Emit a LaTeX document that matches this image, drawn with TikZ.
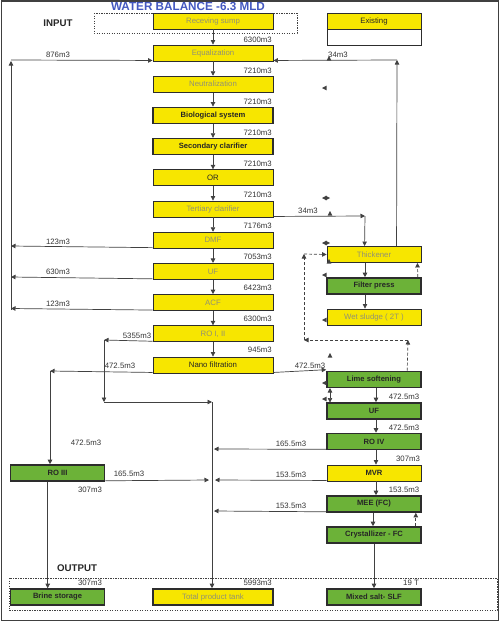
\documentclass[tikz,border=0pt]{standalone}
\usepackage{fontspec}
\setmainfont{Liberation Sans}
\usetikzlibrary{arrows.meta,calc}
\definecolor{ylw}{RGB}{247,230,0}
\definecolor{grn}{RGB}{108,178,56}
\definecolor{edgec}{RGB}{45,45,45}
\definecolor{ln}{RGB}{65,65,65}
\definecolor{gtxt}{RGB}{145,145,115}
\definecolor{ttl}{RGB}{68,88,192}
\begin{document}
\begin{tikzpicture}[x=1pt,y=-1pt,
  box/.style={draw=edgec,line width=0.9pt,minimum height=16pt,inner sep=0pt,font=\fontsize{7.8}{9}\selectfont},
  mainw/.style={minimum width=120pt},
  sidew/.style={minimum width=94pt},
  ybox/.style={box,fill=ylw},
  ybold/.style={box,fill=ylw,line width=1.6pt,font=\bfseries\fontsize{7.6}{9}\selectfont,text=black!85},
  gbox/.style={box,fill=grn,line width=1.6pt,font=\bfseries\fontsize{7.6}{9}\selectfont,text=black!85},
  grey/.style={text=gtxt},
  dark/.style={text=black!85},
  flow/.style={draw=ln,line width=0.7pt,-{Triangle[length=4.5pt,width=4.5pt]}},
  flowb/.style={draw=ln,line width=0.7pt,{Triangle[length=4.5pt,width=4.5pt]}-{Triangle[length=4.5pt,width=4.5pt]}},
  dflow/.style={flow,dash pattern=on 3pt off 2pt},
  qty/.style={font=\fontsize{7.8}{9}\selectfont,text=black!80,inner sep=0pt},
  hdr/.style={font=\bfseries\fontsize{9.7}{11}\selectfont,text=black!85},
  dotbox/.style={draw=black!75,line width=1pt,dash pattern=on 1.2pt off 1.3pt},
  tipmk/.pic={\fill[ln] (0,0) -- (-2.3,4.5) -- (2.3,4.5) -- cycle;}
]
\useasboundingbox (0,0) rectangle (500,622);
\draw[black!75,line width=1.6pt] (1.5,1.2) rectangle (498.5,620.5);

% titles
\node[font=\bfseries\fontsize{11.7}{13}\selectfont,text=ttl,anchor=base] (title) at (188,10.5) {WATER BALANCE -6.3 MLD};
\node[hdr] (inp) at (58,23) {INPUT};
\node[hdr] (outp) at (77,568) {OUTPUT};
\draw[dotbox] (94,13) rectangle (297,33);
\draw[dotbox] (9,578) rectangle (497,610);

% legend
\node[ybox,sidew,dark] (lg1) at (374,21) {Existing};
\node[box,sidew,fill=white] (lg2) at (374,37) {};

% main column
\node[ybox,mainw,grey] (rs) at (213,21) {Receving sump};
\node[ybox,mainw,grey] (eq) at (213,53) {Equalization};
\node[ybox,mainw,grey] (ne) at (213,84.2) {Neutralization};
\node[ybold,mainw] (bio) at (213,115.4) {Biological system};
\node[ybold,mainw] (sec) at (213,146.6) {Secondary clarifier};
\node[ybox,mainw,dark] (or) at (213,177.8) {OR};
\node[ybox,mainw,grey] (ter) at (213,209) {Tertiary clarifier};
\node[ybox,mainw,grey] (dmf) at (213,240.2) {DMF};
\node[ybox,mainw,grey] (uf) at (213,271.4) {UF};
\node[ybox,mainw,grey] (acf) at (213,302.6) {ACF};
\node[ybox,mainw,grey] (ro12) at (213,333.8) {RO I, II};
\node[ybox,mainw,dark] (nano) at (213,365) {Nano filtration};
\node[ybold,mainw,text=gtxt,font=\fontsize{7.8}{9}\selectfont] (tp) at (213,597) {Total product tank};

% right column
\node[ybox,sidew,grey] (th) at (374,254.5) {Thickener};
\node[gbox,sidew] (fp) at (374,286) {Filter press};
\node[ybox,sidew,grey] (ws) at (374,317) {Wet sludge ( 2T )};
\node[gbox,sidew] (ls) at (374,379.5) {Lime softening};
\node[gbox,sidew] (uf2) at (374,411) {UF};
\node[gbox,sidew] (ro4) at (374,441.5) {RO IV};
\node[ybox,sidew,dark,font=\bfseries\fontsize{7.6}{9}\selectfont] (mvr) at (374,473) {MVR};
\node[gbox,sidew] (mee) at (374,504) {MEE (FC)};
\node[gbox,sidew] (cr) at (374,535) {Crystallizer - FC};
\node[gbox,sidew] (ms) at (374,597) {Mixed salt- SLF};

% left column
\node[gbox,sidew] (ro3) at (57.5,473) {RO III};
\node[gbox,sidew] (br) at (57.5,597) {Brine storage};

% main chain
\foreach \a/\b in {rs/eq,eq/ne,ne/bio,bio/sec,sec/or,or/ter,ter/dmf,dmf/uf,uf/acf,acf/ro12,ro12/nano}
  \draw[flow] (\a) -- (\b);
\foreach \n/\y/\t in {1/40/6300m3,2/71/7210m3,3/102/7210m3,4/133/7210m3,5/164/7210m3,6/195/7210m3,7/226/7176m3,8/257/7053m3,9/288/6423m3,10/319/6300m3,11/350/945m3}
  \node[qty,anchor=east] (m\n) at (272,\y) {\t};

% left recycle loop
\coordinate (lt) at (11,60);
\coordinate (lb) at (11,310);
\coordinate (ldmf) at (11,246);
\coordinate (luf) at (11,277);
\coordinate (lacf) at (11,308.5);
\draw[flow] ($(dmf.south west)+(0,-1)$) -- (ldmf);
\draw[flow] ($(uf.south west)+(0,-1)$) -- (luf);
\draw[flow] ($(acf.south west)+(0,-1)$) -- (lacf);
\draw[flow] (lb) -- ($(lt)+(0,1)$);
\draw[flow] (lt) -- ($(eq.south west)+(0,-1)$);
\node[qty] (q876) at (58,55) {876m3};
\node[qty] (q123a) at (58,242) {123m3};
\node[qty] (q630) at (58,272) {630m3};
\node[qty] (q123b) at (58,304) {123m3};

% sludge recycle to equalization
\coordinate (rt) at (397,60);
\draw[flow] ($(th.north west)+(70,0)$) -- (rt);
\draw[flow] (rt) -- ($(eq.south east)+(0,-1)$);
\node[qty] (q34a) at (338,55) {34m3};

% tertiary to thickener
\coordinate (tt) at (365,216);
\draw[flow] ($(ter.south east)+(0,-1)$) -- (tt);
\draw[flow] (tt) -- ($(th.north west)+(38,0)$);
\node[qty] (q34b) at (308,211) {34m3};

% sludge line
\draw[flow] ($(th.south)+(-9,0)$) -- ($(fp.north)+(-9,0)$);
\draw[flow] ($(fp.south)+(-9,0)$) -- ($(ws.north)+(-9,0)$);
\draw[dflow] ($(fp.north east)+(-4,0)$) -- ($(th.south east)+(-4,0)$);

% dashed loop from lime softening to thickener
\coordinate (d1) at (408,340);
\coordinate (d2) at (304,340);
\coordinate (d3) at (304,254);
\draw[dflow] ($(ls.north west)+(81,0)$) -- (d1);
\draw[dflow] (d1) -- (d2);
\draw[dflow] (d2) -- (d3);
\draw[dflow] (d3) -- (th.west);

% RO I, II permeate
\coordinate (r1) at (104,340);
\coordinate (r2) at (104,402);
\coordinate (r3) at (212,402);
\draw[flow] ($(ro12.south west)+(0,-1)$) -- (r1);
\draw[flow] (r1) -- (r2);
\draw[flow] (r2) -- (r3);
\draw[flow] (r3) -- (tp.north -| r3);
\node[qty] (q5355) at (137,336) {5355m3};

% nano filtration
\coordinate (n1) at (50,371);
\draw[flow] ($(nano.south west)+(0,-1)$) -- (n1);
\draw[flow] (n1) -- (n1 |- ro3.north);
\draw[flow] ($(nano.south east)+(0,-1)$) -- ($(ls.north west)+(0,-1)$);
\node[qty] (q472a) at (120,366) {472.5m3};
\node[qty] (q472b) at (310,366) {472.5m3};
\node[qty] (q472c) at (86,443) {472.5m3};

% ZLD chain
\draw[flow] ($(ls.south)+(2,0)$) -- ($(uf2.north)+(2,0)$);
\draw[flow] ($(uf2.south)+(2,0)$) -- ($(ro4.north)+(2,0)$);
\draw[flow] ($(ro4.south)+(2,0)$) -- ($(mvr.north)+(2,0)$);
\draw[flow] ($(mvr.south)+(2,0)$) -- ($(mee.north)+(2,0)$);
\draw[flow] ($(mee.south)+(-1,0)$) -- ($(cr.north)+(-1,0)$);
\draw[dflow] ($(cr.north east)+(-6,0)$) -- ($(mee.south east)+(-6,0)$);
\draw[flow] (cr) -- (ms);
\node[qty] (q472d) at (404,397) {472.5m3};
\node[qty] (q472e) at (404,428) {472.5m3};
\node[qty] (q307a) at (408,459) {307m3};
\node[qty] (q153a) at (404,490) {153.5m3};
\node[qty] (q19) at (411,583) {19 T};

% permeates to product line
\coordinate (v1) at (214,449);
\coordinate (v2) at (215,480);
\coordinate (v3) at (214,511);
\coordinate (v4) at (209,480);
\draw[flow] ($(ro4.south west)+(0,-1)$) -- (v1);
\draw[flow] ($(mvr.south west)+(0,-1)$) -- (v2);
\draw[flow] ($(mee.south west)+(0,-1)$) -- (v3);
\draw[flow] ($(ro3.south east)+(0,-1)$) -- (v4);
\node[qty] (q165a) at (291,444) {165.5m3};
\node[qty] (q153b) at (291,475) {153.5m3};
\node[qty] (q153c) at (291,506) {153.5m3};
\node[qty] (q165b) at (129,474) {165.5m3};

% RO III reject
\draw[flow] ($(ro3.south west)+(38,0)$) -- ($(br.north west)+(38,0)$);
\node[qty] (q307b) at (90,490) {307m3};
\node[qty] (q307c) at (90,583) {307m3};
\node[qty,anchor=east] (q5993) at (272,583) {5993m3};

% stray arrow tips
\coordinate (da1) at (330,388);
\coordinate (da2) at (330,402.5);
\draw[flowb] (da1) -- (da2);
\foreach \x/\y/\r in {329/56/0,322/88/90,322/198/90,330/198/-90,330/211/0,322/243/90,330/243/-90,329/259/0,322/275/90,322/320/90,330/353/0,322/383/90,322/399/90}
  \pic[rotate=\r] at (\x,\y) {tipmk};
\end{tikzpicture}
\end{document}
